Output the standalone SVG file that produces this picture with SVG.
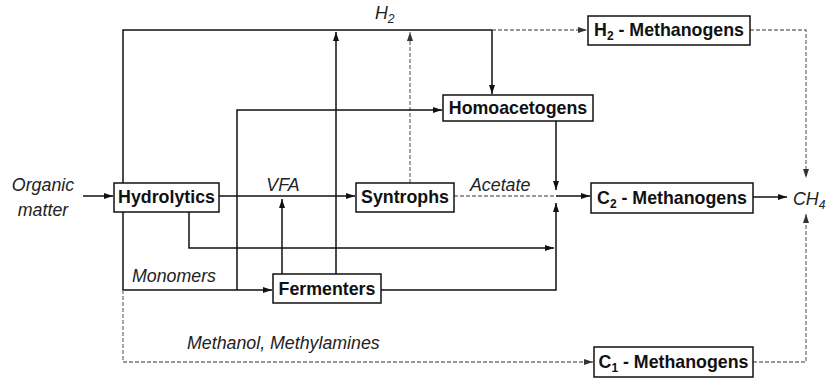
<svg xmlns="http://www.w3.org/2000/svg" width="832" height="379" viewBox="0 0 832 379">
<style>
.box{fill:#fff;stroke:#111;stroke-width:1.5}
.bt{font-family:"Liberation Sans",Arial,sans-serif;font-weight:bold;font-size:17.8px;fill:#111;text-anchor:middle}
.lb{font-family:"Liberation Sans",Arial,sans-serif;font-style:italic;font-size:17.8px;fill:#222}
.ln{fill:none;stroke:#111;stroke-width:1.5}
.dl{fill:none;stroke:#777;stroke-width:1.3;stroke-dasharray:4 2}
</style>
<defs>
<marker id="ah" markerUnits="userSpaceOnUse" markerWidth="10" markerHeight="8" refX="9" refY="4" orient="auto">
<path d="M0,1 L9,4 L0,7 Z" fill="#111"/>
</marker>
<marker id="ahg" markerUnits="userSpaceOnUse" markerWidth="10" markerHeight="8" refX="9" refY="4" orient="auto">
<path d="M0,1 L9,4 L0,7 Z" fill="#333"/>
</marker>
</defs>
<g id="connectors">
<path class="ln" d="M83,196 H113" marker-end="url(#ah)"/>
<path class="ln" d="M219,196 H355" marker-end="url(#ah)"/>
<path class="ln" d="M123,183 V30 H492"/>
<path class="dl" d="M492,30 H587" marker-end="url(#ahg)"/>
<path class="ln" d="M492,30 V94" marker-end="url(#ah)"/>
<path class="ln" d="M336,274 V32" marker-end="url(#ah)"/>
<path class="dl" d="M410,183 V32" marker-end="url(#ahg)"/>
<path class="ln" d="M282,274 V199" marker-end="url(#ah)"/>
<path class="ln" d="M123,212 V290 H272" marker-end="url(#ah)"/>
<path class="ln" d="M237,290 V110 H442" marker-end="url(#ah)"/>
<path class="dl" d="M123,290 V362 H593" marker-end="url(#ahg)"/>
<path class="ln" d="M189,212 V248 H554" marker-end="url(#ah)"/>
<path class="ln" d="M381,290 H556 V203" marker-end="url(#ah)"/>
<path class="ln" d="M556,121 V190" marker-end="url(#ah)"/>
<path class="dl" d="M454,196 H556"/>
<path class="ln" d="M556,196 H590" marker-end="url(#ah)"/>
<path class="ln" d="M753,197 H787" marker-end="url(#ah)"/>
<path class="dl" d="M750,30 H806 V178" marker-end="url(#ahg)"/>
<path class="dl" d="M753,362 H806 V214" marker-end="url(#ahg)"/>
</g>
<g id="labels">
<text class="lb" x="43" y="191" text-anchor="middle">Organic</text>
<text class="lb" x="43" y="216" text-anchor="middle">matter</text>
<text class="lb" x="283" y="191" text-anchor="middle">VFA</text>
<text class="lb" x="375" y="19">H<tspan font-size="12" dy="4">2</tspan></text>
<text class="lb" x="470" y="191">Acetate</text>
<text class="lb" x="132" y="282">Monomers</text>
<text class="lb" x="187" y="349">Methanol, Methylamines</text>
<text class="lb" x="793" y="205">CH<tspan font-size="12" dy="4">4</tspan></text>
</g>
<g id="hydrolytics">
<rect class="box" x="114" y="183" width="105" height="29"/>
<text class="bt" x="166.5" y="203">Hydrolytics</text>
</g>
<g id="syntrophs">
<rect class="box" x="356" y="183" width="98" height="29"/>
<text class="bt" x="405" y="203">Syntrophs</text>
</g>
<g id="fermenters">
<rect class="box" x="273" y="274" width="108" height="29"/>
<text class="bt" x="327" y="295">Fermenters</text>
</g>
<g id="homoacetogens">
<rect class="box" x="443" y="95" width="150" height="26"/>
<text class="bt" x="518" y="114">Homoacetogens</text>
</g>
<g id="h2-methanogens">
<rect class="box" x="588" y="16" width="162" height="29"/>
<text class="bt" x="669" y="36">H<tspan font-size="12" dy="4">2</tspan><tspan dy="-4"> - Methanogens</tspan></text>
</g>
<g id="c2-methanogens">
<rect class="box" x="591" y="183" width="162" height="30"/>
<text class="bt" x="672" y="204">C<tspan font-size="12" dy="4">2</tspan><tspan dy="-4"> - Methanogens</tspan></text>
</g>
<g id="c1-methanogens">
<rect class="box" x="594" y="347" width="159" height="30"/>
<text class="bt" x="673.5" y="368">C<tspan font-size="12" dy="4">1</tspan><tspan dy="-4"> - Methanogens</tspan></text>
</g>
</svg>
